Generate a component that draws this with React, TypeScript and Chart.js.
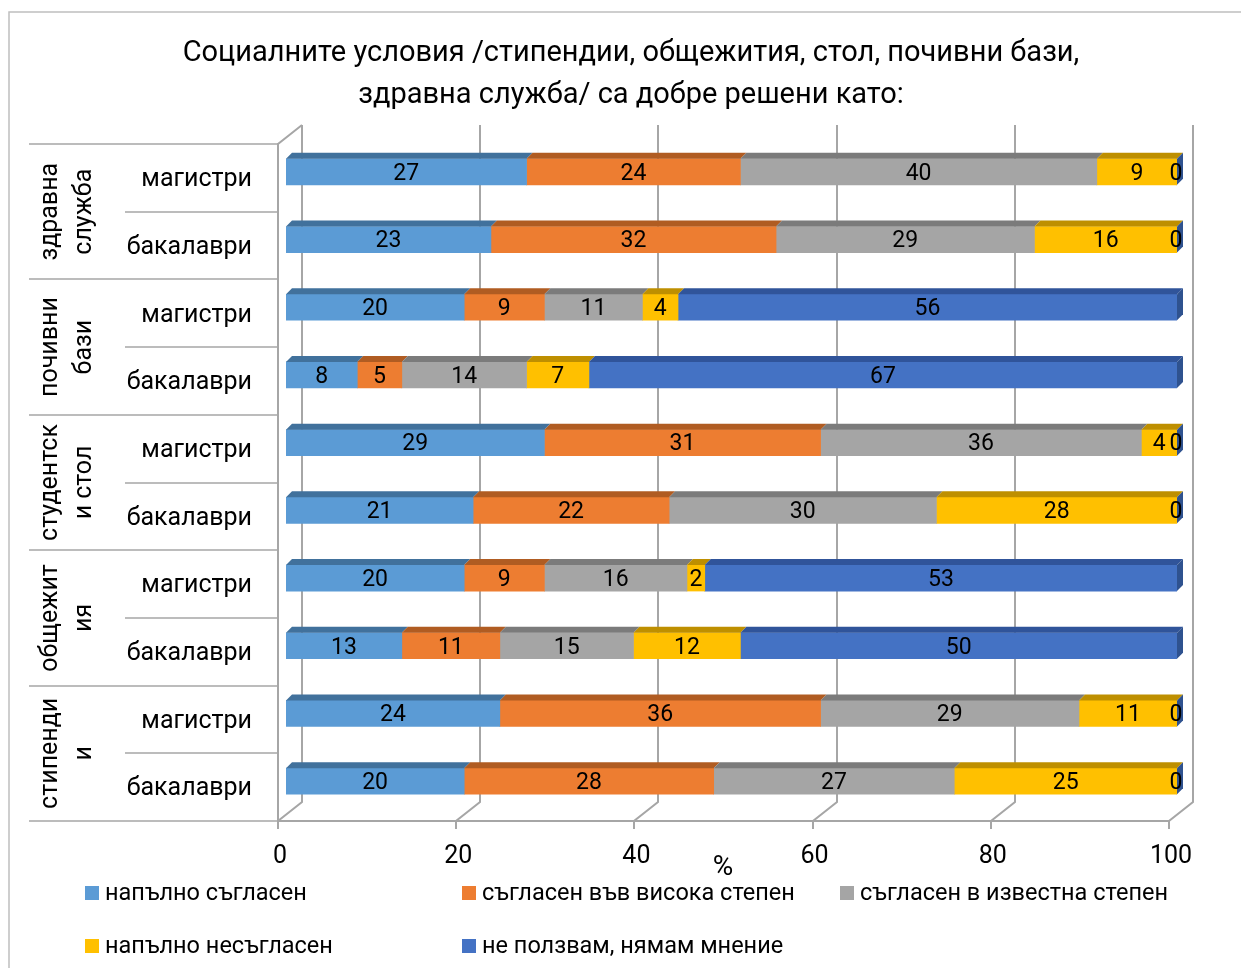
import React, { useEffect, useRef } from "react";
import { Chart, registerables } from "chart.js";
Chart.register(...registerables);

const FONT = "Roboto, 'Noto Sans', sans-serif";

const titleLines = [
  "Социалните условия /стипендии, общежития, стол, почивни бази,",
  "здравна служба/ са добре решени като:",
];
const groupLabels = [
  ["здравна", "служба"],
  ["почивни", "бази"],
  ["студентск", "и стол"],
  ["общежит", "ия"],
  ["стипенди", "и"],
];
const subLabels = ["магистри", "бакалаври"];
const rowLabels = groupLabels.flatMap((g) => subLabels.map((s) => g.join(" ") + " - " + s));

const seriesNames = [
  "напълно съгласен",
  "съгласен във висока степен",
  "съгласен в известна степен",
  "напълно несъгласен",
  "не ползвам, нямам мнение",
];
const fullyAgree = [27, 23, 20, 8, 29, 21, 20, 13, 24, 20];
const highlyAgree = [24, 32, 9, 5, 31, 22, 9, 11, 36, 28];
const someAgree = [40, 29, 11, 14, 36, 30, 16, 15, 29, 27];
const disagree = [9, 16, 4, 7, 4, 28, 2, 12, 11, 25];
const noOpinion = [0, 0, 56, 67, 0, 0, 53, 50, 0, 0];
const seriesData = [fullyAgree, highlyAgree, someAgree, disagree, noOpinion];

const colors = ["#5B9BD5", "#ED7D31", "#A5A5A5", "#FFC000", "#4472C4"];
const topColors = ["#41719C", "#B05C22", "#7B7B7B", "#BE8F00", "#30549A"];
const sideColor = "#2F528F";
const GRID = "#A6A6A6";

const xTicks = [0, 20, 40, 60, 80, 100];
const xTitle = "%";

const plugin3d = {
  id: "plugin3d",
  beforeDatasetsDraw(chart: any) {
    const ctx = chart.ctx;
    const xs = chart.scales.x;
    const ys = chart.scales.y;
    const ca = chart.chartArea;
    ctx.save();
    // outer border
    ctx.strokeStyle = "#BFBFBF";
    ctx.lineWidth = 1.5;
    ctx.strokeRect(9, 12, 1240, 1000);
    // title
    ctx.fillStyle = "#000";
    ctx.font = `29px ${FONT}`;
    ctx.textAlign = "center";
    ctx.textBaseline = "middle";
    titleLines.forEach((t, i) => ctx.fillText(t, 631, 54 + i * 42));

    const backTop = ca.top - 13;
    const backBottom = ca.bottom - 13;
    const frontTop = ca.top + 6;
    const frontBottom = ca.bottom + 6;
    const x0 = xs.getPixelForValue(0);
    const x100 = xs.getPixelForValue(100);

    ctx.strokeStyle = GRID;
    ctx.lineWidth = 2;
    // gridlines on back wall + floor diagonals + ticks
    xTicks.forEach((v) => {
      const xb = Math.round(xs.getPixelForValue(v) + 16);
      ctx.beginPath();
      ctx.moveTo(xb, backTop);
      ctx.lineTo(xb, backBottom);
      ctx.lineTo(xb - 24, frontBottom);
      ctx.lineTo(xb - 24, frontBottom + 8);
      ctx.stroke();
    });
    // front floor edge
    ctx.beginPath();
    ctx.moveTo(Math.round(x0 - 8), frontBottom);
    ctx.lineTo(Math.round(x100 - 8), frontBottom);
    ctx.stroke();
    // left wall edge
    ctx.beginPath();
    ctx.moveTo(Math.round(x0 + 16), backTop);
    ctx.lineTo(Math.round(x0 - 8), frontTop);
    ctx.lineTo(Math.round(x0 - 8), frontBottom);
    ctx.stroke();

    // tick labels
    ctx.fillStyle = "#000";
    ctx.font = `25px ${FONT}`;
    ctx.textAlign = "center";
    ctx.textBaseline = "middle";
    xTicks.forEach((v) => {
      ctx.fillText(String(v), xs.getPixelForValue(v) - 6, 857);
    });
    ctx.font = `28px ${FONT}`;
    ctx.fillText(xTitle, 723, 868);

    // left category table
    const n = rowLabels.length;
    const step = (ca.bottom - ca.top) / n;
    const axX = Math.round(x0 - 8);
    ctx.strokeStyle = GRID;
    ctx.lineWidth = 1.5;
    for (let i = 0; i <= n; i++) {
      const y = Math.round(ca.top + i * step + 6);
      const startX = i % 2 === 0 ? 29 : 125;
      ctx.beginPath();
      ctx.moveTo(startX, y);
      ctx.lineTo(axX, y);
      ctx.stroke();
    }
    ctx.font = `25px ${FONT}`;
    ctx.textAlign = "right";
    for (let i = 0; i < n; i++) {
      const yc = ys.getPixelForValue(i) + 8;
      ctx.fillText(subLabels[i % 2], 252, yc);
    }
    ctx.textAlign = "center";
    groupLabels.forEach((lines, g) => {
      const yc = ca.top + (g * 2 + 1) * step + 6;
      ctx.save();
      ctx.translate(0, yc);
      ctx.rotate(-Math.PI / 2);
      lines.forEach((l, k) => {
        ctx.fillText(l, 0, 51 + k * 34);
      });
      ctx.restore();
    });

    // legend
    const legendPos = [
      [85, 893],
      [462, 893],
      [840, 893],
      [85, 946],
      [462, 946],
    ];
    ctx.font = `23.5px ${FONT}`;
    ctx.textAlign = "left";
    seriesNames.forEach((name, i) => {
      const [lx, ly] = legendPos[i];
      ctx.fillStyle = colors[i];
      ctx.fillRect(lx, ly - 7, 14, 14);
      ctx.fillStyle = "#000";
      ctx.fillText(name, lx + 20, ly + 1);
    });
    ctx.restore();
  },
  afterDatasetsDraw(chart: any) {
    const ctx = chart.ctx;
    const ca = chart.chartArea;
    const DX = 6;
    const DY = 6;
    ctx.save();
    const n = rowLabels.length;
    for (let i = 0; i < n; i++) {
      let endX = ca.left;
      let top = 0;
      let bottom = 0;
      seriesData.forEach((_, d) => {
        const el = chart.getDatasetMeta(d).data[i];
        const p = el.getProps(["x", "y", "base", "height"], true);
        const a = Math.min(p.base, p.x);
        const b = Math.min(Math.max(p.base, p.x), ca.right);
        top = p.y - p.height / 2;
        bottom = p.y + p.height / 2;
        if (b > a + 0.3) {
          ctx.fillStyle = topColors[d];
          ctx.beginPath();
          ctx.moveTo(a, top);
          ctx.lineTo(a + DX, top - DY);
          ctx.lineTo(b + DX, top - DY);
          ctx.lineTo(b, top);
          ctx.closePath();
          ctx.fill();
        }
        endX = Math.max(endX, b);
      });
      ctx.fillStyle = sideColor;
      ctx.beginPath();
      ctx.moveTo(endX, top);
      ctx.lineTo(endX + DX, top - DY);
      ctx.lineTo(endX + DX, bottom - DY);
      ctx.lineTo(endX, bottom);
      ctx.closePath();
      ctx.fill();
    }
    // labels
    ctx.fillStyle = "#000";
    ctx.font = `23px ${FONT}`;
    ctx.textAlign = "center";
    ctx.textBaseline = "middle";
    for (let i = 0; i < n; i++) {
      seriesData.forEach((arr, d) => {
        const el = chart.getDatasetMeta(d).data[i];
        const p = el.getProps(["x", "y", "base"], true);
        const a = Math.min(p.base, p.x);
        const b = Math.min(Math.max(p.base, p.x), ca.right);
        const cx = arr[i] === 0 ? b - 1 : (a + b) / 2;
        ctx.fillText(String(arr[i]), cx, p.y + 2);
      });
    }
    ctx.restore();
  },
};

export default function App() {
  const ref = useRef<HTMLCanvasElement | null>(null);
  useEffect(() => {
    document.body.style.margin = "0";
    const canvas = ref.current;
    if (!canvas) return;
    const chart = new Chart(canvas, {
      type: "bar",
      data: {
        labels: rowLabels,
        datasets: seriesData.map((arr, d) => ({
          label: seriesNames[d],
          data: arr,
          backgroundColor: colors[d],
          borderWidth: 0,
          barThickness: 26,
        })),
      },
      options: {
        indexAxis: "y",
        animation: false,
        responsive: false,
        devicePixelRatio: 1,
        layout: { padding: { left: 286, right: 64, top: 138, bottom: 153 } },
        plugins: {
          legend: { display: false },
          title: { display: false },
          tooltip: { enabled: false },
        },
        scales: {
          x: { stacked: true, min: 0, max: 100, display: false },
          y: { stacked: true, display: false },
        },
      },
      plugins: [plugin3d],
    } as any);
    return () => chart.destroy();
  }, []);
  return (
    <div style={{ width: 1241, height: 968, background: "#fff" }}>
      <canvas ref={ref} width={1241} height={968} style={{ width: 1241, height: 968, display: "block" }} />
    </div>
  );
}
